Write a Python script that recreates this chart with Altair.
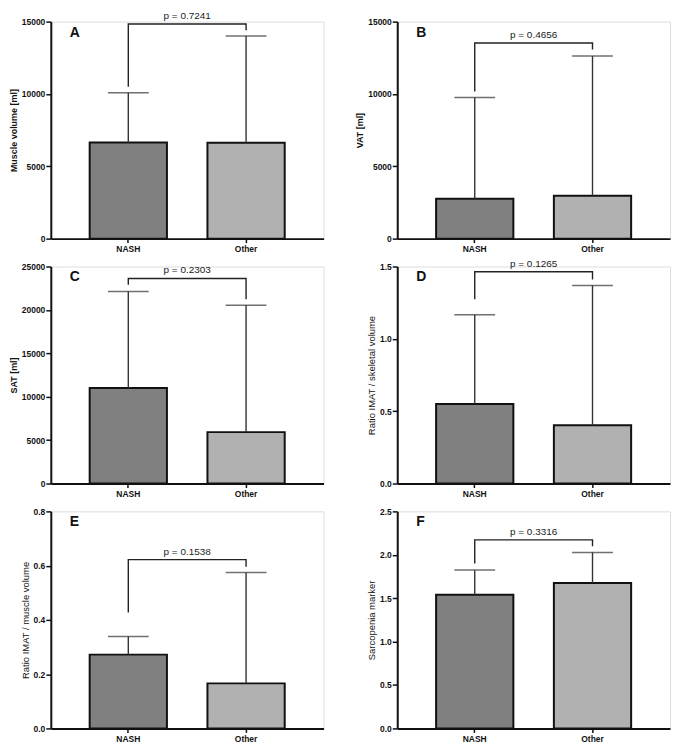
import altair as alt
import pandas as pd

groups = ["NASH", "Other"]
bar_colors = ["#808080", "#b1b1b1"]

letters = ["A", "B", "C", "D", "E", "F"]
y_titles = ["Muscle volume [ml]", "VAT [ml]", "SAT [ml]",
            "Ratio IMAT / skeletal volume", "Ratio IMAT / muscle volume",
            "Sarcopenia marker"]
title_bold = [True, True, True, False, False, False]
p_texts = ["p = 0.7241", "p = 0.4656", "p = 0.2303", "p = 0.1265", "p = 0.1538", "p = 0.3316"]

mean_A = [6650, 6620]
upper_A = [10080, 14000]
bracket_A = [10490, 14835, 14835, 14400]

mean_B = [2750, 2970]
upper_B = [9760, 12620]
bracket_B = [10170, 13520, 13520, 13080]

mean_C = [11010, 5920]
upper_C = [22130, 20540]
bracket_C = [22910, 23620, 23620, 21240]

mean_D = [0.550, 0.402]
upper_D = [1.167, 1.369]
bracket_D = [1.274, 1.464, 1.464, 1.410]

mean_E = [0.272, 0.166]
upper_E = [0.339, 0.575]
bracket_E = [0.427, 0.622, 0.622, 0.596]

mean_F = [1.541, 1.675]
upper_F = [1.825, 2.026]
bracket_F = [1.899, 2.172, 2.172, 2.097]

y_max = [15000, 15000, 25000, 1.5, 0.8, 2.5]
y_major = [5000, 5000, 5000, 0.5, 0.2, 0.5]
y_minor = [2500, 2500, 2500, 0.25, 0.1, 0.5]
y_format = ["d", "d", "d", ".1f", ".1f", ".1f"]

all_means = [mean_A, mean_B, mean_C, mean_D, mean_E, mean_F]
all_uppers = [upper_A, upper_B, upper_C, upper_D, upper_E, upper_F]
all_brackets = [bracket_A, bracket_B, bracket_C, bracket_D, bracket_E, bracket_F]

FONT = "Liberation Sans"
W = 274
H = 218
P_INNER = 0.344
P_OUTER = 0.33
STEP = W / (2 - P_INNER + 2 * P_OUTER)


def panel(i):
    means = all_means[i]
    uppers = all_uppers[i]
    br = all_brackets[i]
    ymax = y_max[i]
    major = y_major[i]
    minor = y_minor[i]
    n = int(round(ymax / minor))
    vals = [round(k * minor, 6) for k in range(n + 1)]
    test = f"abs(datum.value/{major} - round(datum.value/{major})) < 0.001"

    bars_df = pd.DataFrame({"cat": groups, "mean": means, "upper": uppers})
    br_df = pd.DataFrame({"cat": ["NASH", "NASH", "Other", "Other"], "y": br, "o": [0, 1, 2, 3]})
    p_df = pd.DataFrame({"cat": ["NASH"], "y": [br[1]], "t": [p_texts[i]]})
    l_df = pd.DataFrame({"t": [letters[i]]})

    x = alt.X("cat:N", sort=groups,
              scale=alt.Scale(paddingInner=P_INNER, paddingOuter=P_OUTER),
              axis=alt.Axis(title=None, labelAngle=0, labelFontWeight="bold",
                            labelFontSize=8.5, labelFont=FONT, labelColor="#111",
                            tickSize=4, tickWidth=1.5, tickColor="#111",
                            domainWidth=2, domainColor="#111", labelPadding=2))
    y_axis = alt.Axis(title=y_titles[i], values=vals, format=y_format[i],
                      labelExpr=f"{test} ? datum.label : ''",
                      tickSize={"condition": {"test": test, "value": 5}, "value": 3},
                      tickWidth=1.5, tickColor="#111", domainWidth=2, domainColor="#111",
                      labelFont=FONT, labelFontSize=8.5, labelFontWeight="bold",
                      labelColor="#111", labelPadding=1, grid=False,
                      titleFont=FONT, titleFontSize=9.5 if not title_bold[i] else 9,
                      titleFontWeight="bold" if title_bold[i] else "normal",
                      titleColor="#111", titlePadding=3)
    yscale = alt.Scale(domain=[0, ymax], nice=False, zero=True)

    bars = alt.Chart(bars_df).mark_bar(stroke="#111", strokeWidth=2).encode(
        x=x,
        y=alt.Y("mean:Q", scale=yscale, axis=y_axis),
        color=alt.Color("cat:N", scale=alt.Scale(domain=groups, range=bar_colors), legend=None),
    )
    err = alt.Chart(bars_df).mark_rule(color="#333", strokeWidth=1.4).encode(
        x=alt.X("cat:N", sort=groups), y="mean:Q", y2="upper:Q")
    cap = alt.Chart(bars_df).mark_tick(color="#333", size=41, thickness=1.5).encode(
        x=alt.X("cat:N", sort=groups), y="upper:Q")
    bracket = alt.Chart(br_df).mark_line(color="#222", strokeWidth=1.4).encode(
        x=alt.X("cat:N", sort=groups), y="y:Q", order="o:Q")
    ptxt = alt.Chart(p_df).mark_text(dx=STEP / 2, dy=-3, baseline="bottom", align="center",
                                     font=FONT, fontSize=10, color="#222").encode(
        x=alt.X("cat:N", sort=groups), y="y:Q", text="t:N")
    letter = alt.Chart(l_df).mark_text(align="left", baseline="top", font=FONT,
                                       fontSize=14, fontWeight="bold", color="#111").encode(
        x=alt.value(19), y=alt.value(4), text="t:N")

    return alt.layer(bars, err, cap, bracket, ptxt, letter).properties(width=W, height=H)


chart = alt.concat(*[panel(i) for i in range(6)], columns=2, bounds="flush",
                   spacing={"row": 28, "column": 74}).properties(
    padding={"left": 0, "top": 0, "right": 0, "bottom": 0}
).configure_view(stroke=None).configure(background="white")

chart.save("out.html", embed_options={"renderer": "svg", "actions": False})
